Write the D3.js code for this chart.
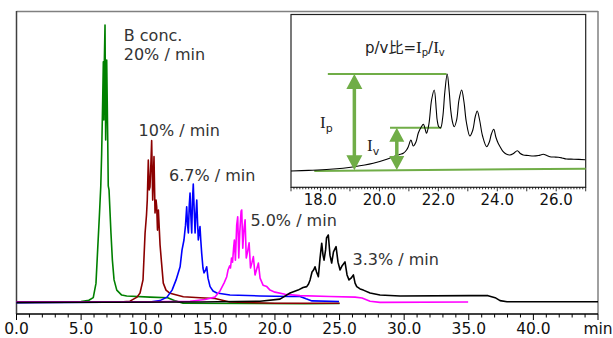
<!DOCTYPE html>
<html>
<head>
<meta charset="utf-8">
<script src="https://cdn.jsdelivr.net/npm/d3@7"></script>
<style>
  body { margin: 0; background: #fff; }
  svg { display: block; }
  text { font-family: "DejaVu Sans", Verdana, "Noto Sans CJK JP", sans-serif; }
</style>
</head>
<body>
<svg id="chart" width="613" height="338"></svg>
<script>
// main x axis (min)
const mainTicks = [0, 5, 10, 15, 20, 25, 30, 35, 40, 45];
const mainTickLabels = ["0.0", "5.0", "10.0", "15.0", "20.0", "25.0", "30.0", "35.0", "40.0", "min"];

// chromatograms [time (min), intensity]
const green = [[0,0],[3,0.1],[5,0.3],[5.6,0.7],[5.94,1.6],[6.15,6.5],[6.28,18],[6.41,29.4],[6.52,39.7],[6.59,51],[6.67,69.4],
  [6.72,82.6],[6.76,62.6],[6.8,83.2],[6.85,95.2],[6.9,55.7],[6.94,69.4],[6.98,83.2],[7.02,69.4],[7.06,55.7],[7.1,40],
  [7.16,38.6],[7.24,30.7],[7.31,23.8],[7.42,14.5],[7.55,7.7],[7.76,4.2],[8.14,2.5],[8.53,2.2],[10.33,1.8],[11.7,1.6],
  [12.3,0.5],[12.9,-0.3],[18,-0.4],[22.3,-0.5],[25,-0.4]];
const darkred = [[0,0],[8,0.1],[8.78,0.4],[9.33,1.8],[9.56,3.2],[9.79,7.7],[9.95,23.8],[10.06,30],[10.12,35.1],[10.2,48.8],
  [10.27,38.6],[10.33,39.6],[10.41,48.8],[10.46,55.5],[10.54,35.1],[10.64,50],[10.72,30.7],[10.8,35.1],[10.85,32.8],
  [10.91,24.8],[10.98,31.7],[11.11,19.7],[11.22,13.8],[11.36,6.6],[11.57,4.2],[11.88,3.1],[12.91,1.9],[14.2,1.6],
  [15.36,1.3],[16.5,0.1],[20,-0.3],[25,-0.3]];
const blue = [[0,-0.1],[10.33,0.1],[11.1,0.6],[11.65,1.8],[12.04,4.2],[12.35,7.7],[12.66,12.2],[12.81,18],[12.96,21.4],
  [13.08,26.5],[13.17,32.8],[13.24,26.5],[13.3,23.8],[13.37,33.4],[13.43,37.5],[13.49,30],[13.56,23.8],[13.62,35.1],
  [13.68,40.6],[13.75,31.7],[13.82,23.8],[13.88,30],[13.95,35.1],[14.01,27.6],[14.07,21.4],[14.14,24.1],[14.2,26],
  [14.26,21.4],[14.33,16.9],[14.43,11.8],[14.51,10.1],[14.63,11.1],[14.72,12.2],[14.82,8.3],[14.98,5.4],[15.21,3.9],
  [15.5,3.2],[16.52,2.5],[18.85,2.2],[21.17,2.0],[21.94,2.0],[22.41,1.2],[22.87,0.5],[24.96,0.3]];
const magenta = [[0,0.2],[10.33,0.2],[13.43,0.4],[14.59,1],[15.36,1.8],[15.75,3.9],[16.06,6.6],[16.27,8.8],[16.37,11.1],
  [16.49,12.5],[16.56,11.8],[16.64,15.2],[16.72,13.8],[16.8,18.6],[16.86,21.4],[16.94,14.5],[17.04,26.5],[17.12,29.4],
  [17.2,15.2],[17.28,24.1],[17.38,31.3],[17.43,31.7],[17.51,18.6],[17.61,25.5],[17.69,28.3],[17.78,15.2],[17.88,17.3],
  [18,20.4],[18.11,11.8],[18.23,13.8],[18.33,15.7],[18.46,9.4],[18.72,13.5],[18.85,8.3],[19.08,5.9],[19.37,5.4],
  [19.62,4.2],[20,3.5],[20.78,2.8],[21.94,2.3],[24.26,2.0],[26.2,1.8],[26.74,1.5],[27.36,0.4],[28.13,0],[34.95,0.1]];
const black = [[0,0],[14.2,0.1],[18.85,0.4],[20.39,1.1],[21.17,3.2],[21.79,4.2],[22.18,5.1],[22.46,5.4],[22.6,6.3],
  [22.72,7.7],[22.87,10.4],[22.99,11.1],[23.1,12.2],[23.22,10.4],[23.36,8.8],[23.49,15.2],[23.62,20.3],[23.72,16.2],
  [23.8,14.5],[23.92,18],[23.99,22.1],[24.13,23.1],[24.26,16.2],[24.39,13.5],[24.53,17.3],[24.73,19.1],[24.88,13.8],
  [25.04,11.1],[25.19,12.5],[25.42,13.9],[25.58,9.4],[25.73,7.7],[25.89,8.3],[26.07,9.4],[26.2,6.6],[26.33,5.4],
  [26.59,4.6],[26.84,4.2],[27.36,3.2],[28.13,2.5],[29.68,2.2],[35.1,2.3],[36.49,2.3],[37.04,1.6],[37.42,0.6],
  [37.96,0.2],[45,0.2]];

const traces = [
  { data: green, color: "#008000" },
  { data: darkred, color: "#8b0000" },
  { data: blue, color: "#0000ff" },
  { data: magenta, color: "#ff00ff" },
  { data: black, color: "#000000" }
];

// gradient labels [x position in min, intensity, text]
const rateLabels = [
  [8.3, 89.6, "B conc."], [8.3, 83.3, "20% / min"], [9.45, 57, "10% / min"],
  [11.8, 41.5, "6.7% / min"], [18.1, 26.1, "5.0% / min"], [26, 12.8, "3.3% / min"]
];

// inset: p/v ratio of the 3.3%/min run
const insetTicks = [18, 20, 22, 24, 26];
const insetTickLabels = ["18.0", "20.0", "22.0", "24.0", "26.0"];
const insetTrace = [[17,1],[17.6,1.6],[18.32,2.7],[19.15,5.3],[19.79,8.7],[20.25,12.7],[20.53,16],[20.7,17.7],[20.81,18.7],
  [20.92,22],[20.98,25.3],[21.07,32],[21.15,26],[21.24,30],[21.32,39],[21.42,45],[21.49,47.7],[21.56,42],[21.6,38.7],
  [21.68,48],[21.77,72],[21.86,82],[21.93,62],[21.96,52],[22.02,45],[22.08,44.3],[22.15,55],[22.22,80],[22.3,98],
  [22.37,80],[22.42,62],[22.48,50],[22.54,45.3],[22.62,52],[22.7,72],[22.79,82],[22.87,70],[22.95,50],[23.07,36],
  [23.17,42],[23.25,55],[23.32,61],[23.4,52],[23.5,36],[23.64,25.3],[23.73,30],[23.8,38],[23.88,42.7],[23.95,35],
  [24.03,28.7],[24.1,25],[24.2,20.3],[24.3,18],[24.43,17],[24.55,18.5],[24.68,21.3],[24.78,18.5],[24.88,17],
  [25.05,16.5],[25.22,16],[25.4,16.5],[25.56,17.7],[25.68,16.5],[25.79,15.3],[25.93,15],[26.07,14.7],[26.2,14],
  [26.35,13],[26.6,12.8],[26.98,12.3]];
// green guides [t1, t2, level]
const baseGuide = [[17.79, 1], [27, 3.3]];
const ipGuide = [18.25, 22.28, 98];
const ivGuide = [20.36, 22.1, 44.3];
// arrows [t, top, bottom]
const ipArrow = [19.15, 98, 1.8];
const ivArrow = [20.59, 44.3, 2.0];

const svg = d3.select("#chart");

const x = d3.scaleLinear().domain([0, 45]).range([16.5, 598]);
const y = d3.scaleLinear().domain([-4, 100]).range([314, 11]);

// frame
svg.append("line").attr("x1", 16.5).attr("x2", 598).attr("y1", 11.5).attr("y2", 11.5)
  .attr("stroke", "#808080").attr("stroke-width", 1.5);
svg.append("line").attr("x1", 598).attr("x2", 598).attr("y1", 11).attr("y2", 314)
  .attr("stroke", "#808080").attr("stroke-width", 1.5);
svg.append("line").attr("x1", 16.5).attr("x2", 16.5).attr("y1", 11).attr("y2", 314)
  .attr("stroke", "#404040").attr("stroke-width", 1.5);

// x axis
const xAxis = svg.append("g").attr("transform", "translate(0,314)");
xAxis.append("line").attr("x1", 16.5).attr("x2", 598).attr("stroke", "#000").attr("stroke-width", 1.5);
xAxis.selectAll(".minor").data(d3.range(0, 46, 1)).enter().append("line")
  .attr("x1", d => x(d)).attr("x2", d => x(d)).attr("y1", 0)
  .attr("y2", d => d % 5 === 0 ? 6 : 3.5)
  .attr("stroke", "#000").attr("stroke-width", 1);
xAxis.selectAll(".lbl").data(mainTicks).enter().append("text")
  .attr("x", d => x(d)).attr("y", 20)
  .attr("text-anchor", "middle").attr("font-size", 15.5).attr("fill", "#111")
  .text((d, i) => mainTickLabels[i]);

// traces
const line = d3.line().x(d => x(d[0])).y(d => y(d[1]));
traces.forEach(tr => {
  svg.append("path").attr("d", line(tr.data)).attr("fill", "none")
    .attr("stroke", tr.color).attr("stroke-width", 1.6).attr("stroke-linejoin", "round");
});

svg.selectAll(".rate").data(rateLabels).enter().append("text")
  .attr("x", d => x(d[0])).attr("y", d => y(d[1]))
  .attr("font-size", 16).attr("fill", "#333")
  .text(d => d[2]);

// inset
const ix = d3.scaleLinear().domain([17, 27]).range([291, 585.7]);
const iy = d3.scaleLinear().domain([0, 100]).range([172, 72]);
const inset = svg.append("g");
inset.append("rect").attr("x", 291).attr("y", 14.5).attr("width", 294.7).attr("height", 172.8)
  .attr("fill", "#fff").attr("stroke", "#222").attr("stroke-width", 1.2);

const iAxis = inset.append("g").attr("transform", "translate(0,187.3)");
iAxis.selectAll(".t").data(d3.range(170, 271, 1).map(d => d / 10)).enter().append("line")
  .attr("x1", d => ix(d)).attr("x2", d => ix(d)).attr("y1", 0)
  .attr("y2", d => (Math.round(d * 10) % 10 === 0) ? 4 : 2)
  .attr("stroke", "#000").attr("stroke-width", 0.8);
iAxis.selectAll(".l").data(insetTicks).enter().append("text")
  .attr("x", d => ix(d)).attr("y", 18)
  .attr("text-anchor", "middle").attr("font-size", 15).attr("fill", "#111")
  .text((d, i) => insetTickLabels[i]);

const guide = "#70ad47";
inset.append("line").attr("x1", ix(baseGuide[0][0])).attr("y1", iy(baseGuide[0][1]))
  .attr("x2", ix(baseGuide[1][0])).attr("y2", iy(baseGuide[1][1]))
  .attr("stroke", guide).attr("stroke-width", 2);
[ipGuide, ivGuide].forEach(g => {
  inset.append("line").attr("x1", ix(g[0])).attr("x2", ix(g[1])).attr("y1", iy(g[2])).attr("y2", iy(g[2]))
    .attr("stroke", guide).attr("stroke-width", 2);
});

const ipath = d3.line().x(d => ix(d[0])).y(d => iy(d[1])).curve(d3.curveCatmullRom);
inset.append("path").attr("d", ipath(insetTrace)).attr("fill", "none")
  .attr("stroke", "#000").attr("stroke-width", 1.1);

function arrow(a, hw, hl) {
  const cx = ix(a[0]), y1 = iy(a[1]), y2 = iy(a[2]);
  inset.append("line").attr("x1", cx).attr("x2", cx).attr("y1", y1 + hl - 1).attr("y2", y2 - hl + 1)
    .attr("stroke", guide).attr("stroke-width", 3.5);
  inset.append("path")
    .attr("d", `M${cx},${y1}L${cx - hw},${y1 + hl}L${cx + hw},${y1 + hl}Z M${cx},${y2}L${cx - hw},${y2 - hl}L${cx + hw},${y2 - hl}Z`)
    .attr("fill", guide);
}
arrow(ipArrow, 8, 15);
arrow(ivArrow, 7.5, 14);

// inset labels
const serif = "'Liberation Serif', 'DejaVu Serif', serif";
const title = inset.append("text").attr("x", 365).attr("y", 53).attr("font-size", 15).attr("fill", "#222");
title.append("tspan").text("p/v比=");
title.append("tspan").attr("font-family", serif).attr("font-size", 17).text("I");
title.append("tspan").attr("font-size", 10).attr("dy", 3).text("p");
title.append("tspan").attr("dy", -3).text("/");
title.append("tspan").attr("font-family", serif).attr("font-size", 17).text("I");
title.append("tspan").attr("font-size", 10).attr("dy", 3).text("v");

const ipLbl = inset.append("text").attr("x", 320).attr("y", 128).attr("font-size", 17).attr("fill", "#222");
ipLbl.append("tspan").attr("font-family", serif).text("I");
ipLbl.append("tspan").attr("font-size", 11).attr("dy", 4).text("p");
const ivLbl = inset.append("text").attr("x", 367).attr("y", 151).attr("font-size", 17).attr("fill", "#222");
ivLbl.append("tspan").attr("font-family", serif).text("I");
ivLbl.append("tspan").attr("font-size", 11).attr("dy", 4).text("v");
</script>
</body>
</html>
